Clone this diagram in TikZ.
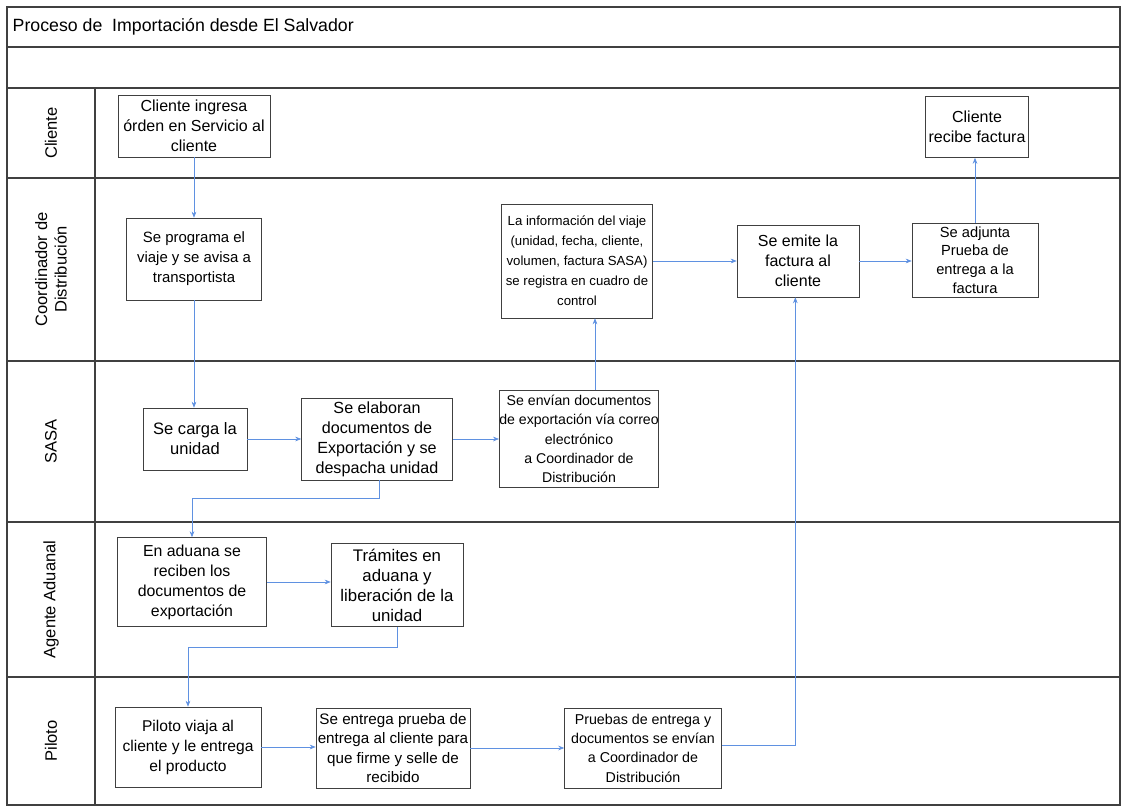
\documentclass[tikz,border=0pt]{standalone}
\usepackage{fontspec}
\setmainfont{Liberation Sans}
\usepackage{xcolor}
\usepackage{tikz}
\usetikzlibrary{arrows.meta}
\usetikzlibrary{positioning}
\definecolor{flowblue}{RGB}{95,145,225}
\tikzset{stepbox/.style={rectangle,draw=black!75,fill=white,align=center,inner sep=0pt}}
\tikzset{flow/.style={draw=flowblue,line width=0.5pt,-{Stealth[length=4.5pt,width=3.5pt]}}}
\tikzset{lanelabel/.style={rotate=90,align=center,font=\fontsize{12.4}{14.5}\selectfont}}
\tikzset{frame/.style={draw=black!75,line width=0.8pt}}

\begin{document}
\begin{tikzpicture}[x=0.75pt,y=-0.75pt]

 \useasboundingbox (0,0) rectangle (1122,810);

 %frame and lanes
 \draw[frame] (7,7) rectangle (1120,805);
 \foreach \y in {47,88,178,361,522,677}
   \draw[frame] (7,\y) -- (1120,\y);
 \draw[frame] (95,88) -- (95,805);

 \node[anchor=west,font=\fontsize{13.3}{16}\selectfont] (title) at (8,27) {Proceso de\ \ Importación desde El Salvador};

 \foreach \top/\bot/\name/\label in {88/178/lcliente/Cliente, 178/361/lcoord/{Coordinador de\\Distribución}, 361/522/lsasa/SASA, 522/677/lagente/Agente Aduanal, 677/805/lpiloto/Piloto}
   \node[lanelabel] (\name) at (51,{(\top+\bot)/2}) {\label};

 %Cliente
 \foreach \x/\y/\w/\h/\fs/\ls/\name/\label in {194/126/152/62/12/15/ingresa/{Cliente ingresa\\órden en Servicio al\\cliente}, 977/127/103/61/12/15/recibe/{Cliente\\recibe factura}}
   \node[stepbox,font=\fontsize{\fs}{\ls}\selectfont,minimum width=\w*0.75pt,minimum height=\h*0.75pt] (\name) at (\x,\y) {\label};

 %Coordinador
 \foreach \x/\y/\w/\h/\fs/\ls/\name/\label in {194/259/135/82/11.2/15/programa/{Se programa el\\viaje y se avisa a\\transportista}, 577/261/151/114/9.9/15/info/{La información del viaje\\(unidad, fecha, cliente,\\volumen, factura SASA)\\se registra en cuadro de\\control}, 798/261/122/72/12/15/emite/{Se emite la\\factura al\\cliente}, 975/260/126/74/11/14/adjunta/{Se adjunta\\Prueba de\\entrega a la\\factura}}
   \node[stepbox,font=\fontsize{\fs}{\ls}\selectfont,minimum width=\w*0.75pt,minimum height=\h*0.75pt] (\name) at (\x,\y) {\label};

 %SASA
 \foreach \x/\y/\w/\h/\fs/\ls/\name/\label in {195/439/104/62/12.4/15/carga/{Se carga la\\unidad}, 377/439/151/82/12.1/15/elabora/{Se elaboran\\documentos de\\Exportación y se\\despacha unidad}, 579/439/153/97/10.6/14.5/envia/{Se envían documentos\\de exportación vía correo\\electrónico\\a Coordinador de\\Distribución}}
   \node[stepbox,font=\fontsize{\fs}{\ls}\selectfont,minimum width=\w*0.75pt,minimum height=\h*0.75pt] (\name) at (\x,\y) {\label};

 %Agente Aduanal
 \foreach \x/\y/\w/\h/\fs/\ls/\name/\label in {192/582/149/89/11.9/15/aduana/{En aduana se\\reciben los\\documentos de\\exportación}, 397/585/132/83/12.6/15/tramites/{Trámites en\\aduana y\\liberación de la\\unidad}}
   \node[stepbox,font=\fontsize{\fs}{\ls}\selectfont,minimum width=\w*0.75pt,minimum height=\h*0.75pt] (\name) at (\x,\y) {\label};

 %Piloto
 \foreach \x/\y/\w/\h/\fs/\ls/\name/\label in {188/747/146/80/11.7/15/viaja/{Piloto viaja al\\cliente y le entrega\\el producto}, 393/748/154/80/11.4/14.5/entrega/{Se entrega prueba de\\entrega al cliente para\\que firme y selle de\\recibido}, 643/748/157/80/10.7/14.5/pruebas/{Pruebas de entrega y\\documentos se envían\\a Coordinador de\\Distribución}}
   \node[stepbox,font=\fontsize{\fs}{\ls}\selectfont,minimum width=\w*0.75pt,minimum height=\h*0.75pt] (\name) at (\x,\y) {\label};

 %flow
 \draw[flow] (ingresa.south) -- (ingresa.south |- programa.north);
 \draw[flow] (programa.south) -- (programa.south |- carga.north);
 \draw[flow] (carga.east) -- (carga.east -| elabora.west);
 \draw[flow] (elabora.east) -- (elabora.east -| envia.west);
 \draw[flow] ([xshift=12pt]envia.north) -- ([xshift=12pt]envia.north |- info.south);
 \draw[flow] (info.east) -- (info.east -| emite.west);
 \draw[flow] (emite.east) -- (emite.east -| adjunta.west);
 \draw[flow] (adjunta.north) -- (adjunta.north |- recibe.south);
 \draw[flow] ([xshift=2pt]elabora.south) -- ++(0,18) -| (aduana.north);
 \draw[flow] (aduana.east) -- (aduana.east -| tramites.west);
 \draw[flow] (tramites.south) -- ++(0,21) -| (viaja.north);
 \draw[flow] (viaja.east) -- (viaja.east -| entrega.west);
 \draw[flow] (entrega.east) -- (entrega.east -| pruebas.west);
 \draw[flow] ([yshift=2pt]pruebas.east) -| ([xshift=-2pt]emite.south);

\end{tikzpicture}
\end{document}
